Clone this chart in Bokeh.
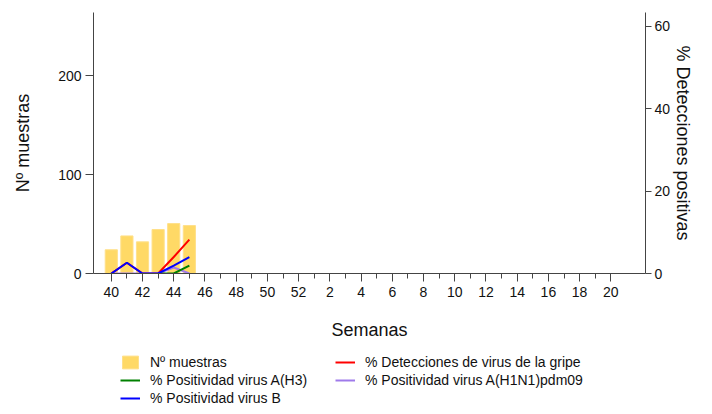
from bokeh.plotting import figure
from bokeh.models import Range1d, LinearAxis, FixedTicker, Legend, LegendItem
from bokeh.layouts import column
from bokeh.embed import file_html
from bokeh.resources import INLINE

# Data
weeks = [40, 41, 42, 43, 44, 45, 46, 47, 48, 49, 50, 51, 52,
         1, 2, 3, 4, 5, 6, 7, 8, 9, 10, 11, 12, 13, 14, 15, 16, 17, 18, 19, 20]
sample_weeks = [40, 41, 42, 43, 44, 45]
n_muestras = [24, 38, 32, 44.5, 50.5, 48.5]
pct_gripe = [0, 2.6, 0, 0, 4.0, 8.2]
pct_h3_weeks = [43, 44, 45]
pct_h3 = [0, 0, 1.9]
pct_h1n1 = [0, 0, 0, 0, 1.45, 0]
pct_b = [0, 2.6, 0, 0, 1.9, 4.0]

labels = ["Nº muestras", "% Detecciones de virus de la gripe",
          "% Positividad virus A(H3)", "% Positividad virus A(H1N1)pdm09",
          "% Positividad virus B"]

idx = {w: i for i, w in enumerate(weeks)}
x_s = [idx[w] for w in sample_weeks]
x_h3 = [idx[w] for w in pct_h3_weeks]

FONT = "Liberation Sans"
AX = "#444444"
C_BAR, C_RED, C_GRN, C_PUR, C_BLU = "#FFD966", "#FF0000", "#008000", "#9F7AEA", "#0000FF"

p = figure(width=696, height=346, output_backend="svg", toolbar_location=None,
           x_range=Range1d(-1.14, 34.22), y_range=Range1d(0, 264),
           min_border_left=93, min_border_right=50, min_border_top=12, min_border_bottom=73)
p.extra_y_ranges = {"pct": Range1d(0, 63.3)}
p.outline_line_color = None
p.xgrid.visible = False
p.ygrid.visible = False

p.vbar(x=x_s, top=n_muestras, width=0.78, fill_color=C_BAR, line_color="#FFE08A", line_width=1)
p.line(x_s, pct_gripe, line_color=C_RED, line_width=2, y_range_name="pct")
p.line(x_s, pct_h1n1, line_color=C_PUR, line_width=2, y_range_name="pct")
p.line(x_h3, pct_h3, line_color=C_GRN, line_width=2, y_range_name="pct")
p.line(x_s, pct_b, line_color=C_BLU, line_width=2, y_range_name="pct")

# x axis
xa = p.xaxis[0]
major = [idx[w] for w in weeks if w % 2 == 0]
minor = [idx[w] for w in weeks if w % 2 == 1]
xa.ticker = FixedTicker(ticks=major, minor_ticks=minor)
xa.major_label_overrides = {idx[w]: str(w) for w in weeks}
xa.axis_label = "Semanas"
xa.axis_label_standoff = 20
xa.major_label_standoff = 5
xa.major_tick_out = 8
xa.major_tick_in = 0
xa.minor_tick_out = 5
xa.minor_tick_in = 0

# left axis
ya = p.yaxis[0]
ya.ticker = FixedTicker(ticks=[0, 100, 200])
ya.axis_label = "Nº muestras"
ya.axis_label_standoff = 22
ya.major_label_standoff = 4
ya.major_tick_out = 8
ya.major_tick_in = 0
ya.minor_tick_out = 0
ya.minor_tick_in = 0

# right axis
ra = LinearAxis(y_range_name="pct", ticker=FixedTicker(ticks=[0, 20, 40, 60]),
                axis_label="% Detecciones positivas")
ra.axis_label_standoff = 0
ra.major_label_standoff = 3
ra.major_tick_out = 6
ra.major_tick_in = 0
ra.minor_tick_out = 0
ra.minor_tick_in = 0
p.add_layout(ra, "right")

for a in [xa, ya, ra]:
    a.axis_line_color = AX
    a.major_tick_line_color = AX
    a.minor_tick_line_color = AX
    a.major_label_text_font = FONT
    a.major_label_text_font_size = "14px"
    a.major_label_text_color = "#111111"
    a.axis_label_text_font = FONT
    a.axis_label_text_font_size = "18px"
    a.axis_label_text_font_style = "normal"
    a.axis_label_text_color = "#111111"

# Legend panel (separate strip beneath the chart; its renderers lie outside its view)
q = figure(width=696, height=60, output_backend="svg", toolbar_location=None,
           x_axis_location=None, y_axis_location=None,
           x_range=Range1d(0, 1), y_range=Range1d(0, 1),
           min_border_left=0, min_border_right=0, min_border_top=0, min_border_bottom=0)
q.outline_line_color = None
q.xgrid.visible = False
q.ygrid.visible = False
off_x = [-10, -9]
off_y = [-10, -10]
lb = q.vbar(x=off_x, top=off_y, width=0.5, fill_color=C_BAR, line_color="#FFE08A")
lr = q.line(off_x, off_y, line_color=C_RED, line_width=2)
lg = q.line(off_x, off_y, line_color=C_GRN, line_width=2)
lp = q.line(off_x, off_y, line_color=C_PUR, line_width=2)
lbl = q.line(off_x, off_y, line_color=C_BLU, line_width=2)

def make_legend(items, loc):
    lg_ = Legend(items=items, location=loc, orientation="vertical")
    lg_.label_text_font = FONT
    lg_.label_text_font_size = "14px"
    lg_.label_text_color = "#111111"
    lg_.glyph_width = 20
    lg_.glyph_height = 16
    lg_.label_height = 16
    lg_.label_standoff = 10
    lg_.spacing = 2
    lg_.padding = 0
    lg_.margin = 0
    lg_.border_line_color = None
    lg_.background_fill_alpha = 0
    return lg_

leg1 = make_legend([LegendItem(label=labels[0], renderers=[lb]),
                    LegendItem(label=labels[2], renderers=[lg]),
                    LegendItem(label=labels[4], renderers=[lbl])], (27, 0))
leg2 = make_legend([LegendItem(label=labels[1], renderers=[lr]),
                    LegendItem(label=labels[3], renderers=[lp])], (242, 18))
q.add_layout(leg1, "center")
q.add_layout(leg2, "center")

layout = column(p, q, spacing=0)
open("out.html", "w").write(file_html(layout, INLINE))
